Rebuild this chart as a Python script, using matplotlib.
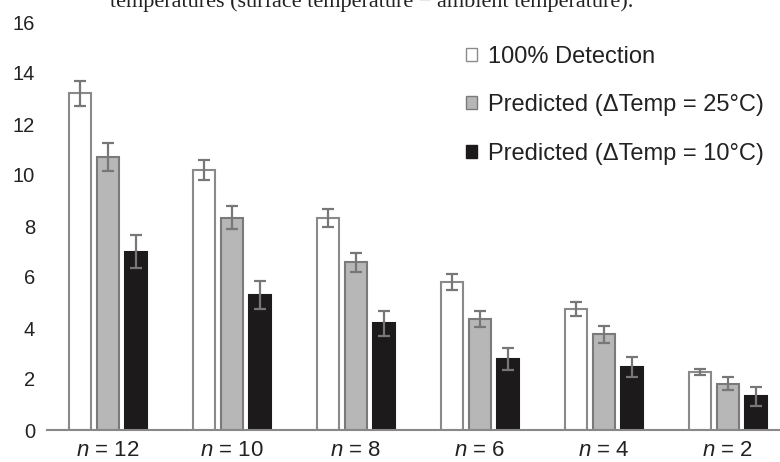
import numpy as np
import matplotlib
matplotlib.use("Agg")
import matplotlib.pyplot as plt
from matplotlib.patches import Patch

plt.rcParams['font.family'] = ['Liberation Sans', 'DejaVu Sans']
plt.rcParams['mathtext.fontset'] = 'custom'
plt.rcParams['mathtext.it'] = 'Liberation Sans:italic'
plt.rcParams['mathtext.rm'] = 'Liberation Sans'

# data
groups = ["12", "10", "8", "6", "4", "2"]
series_names = ["100% Detection", "Predicted (\u0394Temp = 25\u00b0C)", "Predicted (\u0394Temp = 10\u00b0C)"]
detection = [13.2, 10.2, 8.3, 5.8, 4.75, 2.27]
detection_err = [0.5, 0.4, 0.35, 0.32, 0.27, 0.13]
pred25 = [10.7, 8.33, 6.58, 4.35, 3.75, 1.82]
pred25_err = [0.55, 0.45, 0.38, 0.33, 0.32, 0.27]
pred10 = [7.0, 5.3, 4.18, 2.8, 2.46, 1.32]
pred10_err = [0.65, 0.55, 0.5, 0.43, 0.4, 0.38]
yticks = [0, 2, 4, 6, 8, 10, 12, 14, 16]

fills = ['white', '#b7b7b7', '#1c1a1a']
edges = ['#8a8a8a', '#7a7a7a', '#1c1a1a']

fig = plt.figure(figsize=(7.8, 4.62), dpi=100)
ax = fig.add_axes([47 / 780, 32 / 462, 1 - 47 / 780, 408 / 462])

x = np.arange(len(groups))
width = 0.177
step = 0.226
values = [detection, pred25, pred10]
errors = [detection_err, pred25_err, pred10_err]
for i, (vals, errs) in enumerate(zip(values, errors)):
    ax.bar(x + (i - 1) * step, vals, width, color=fills[i], edgecolor=edges[i],
           linewidth=1.5, yerr=errs, capsize=4.5,
           error_kw=dict(ecolor='#777777', elinewidth=1.6, capthick=1.6))

ax.set_xlim(-0.49, 5.42)
ax.set_ylim(0, 16)
ax.set_yticks(yticks)
ax.set_yticklabels([str(t) for t in yticks], fontsize=14.5, color='#222222')
ax.set_xticks(x)
ax.set_xticklabels([r"$n$ = " + g for g in groups], fontsize=16, color='#222222')
ax.tick_params(axis='both', length=0)
ax.tick_params(axis='y', pad=8.5)
ax.tick_params(axis='x', pad=7.5)
for s in ['left', 'right', 'top']:
    ax.spines[s].set_visible(False)
ax.spines['bottom'].set_color('#888888')
ax.spines['bottom'].set_linewidth(1.5)

handles = [Patch(facecolor=fills[i], edgecolor=edges[i], linewidth=1) for i in range(3)]
leg = ax.legend(handles, series_names, loc='upper left', bbox_to_anchor=(0.543, 0.994),
                frameon=False, fontsize=17, handlelength=0.45, handleheight=0.45,
                handletextpad=0.45, labelspacing=1.12)
for t in leg.get_texts():
    t.set_color('#222222')

# caption line cut off at the top of the picture
fig.text(110 / 780, 1 - 7 / 462, "temperatures (surface temperature \u2212 ambient temperature).",
         family=['Liberation Serif', 'DejaVu Serif'], fontsize=16, color='#222222',
         ha='left', va='baseline')

fig.savefig("out.png", dpi=100)
